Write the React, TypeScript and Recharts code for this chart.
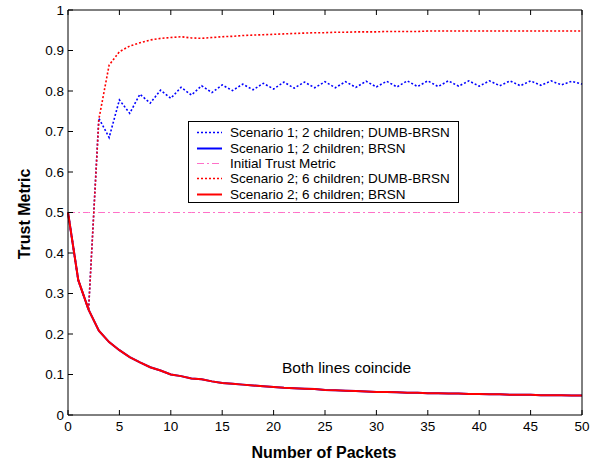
import React from "react";
import { LineChart, Line, XAxis, YAxis, Legend } from "recharts";

const packets = Array.from({ length: 51 }, (_, i) => i);

// Scenario 1 & 2, BRSN (the two lines coincide)
const brsn = [
	0.5, 0.333, 0.26, 0.208, 0.18, 0.16, 0.143, 0.13, 0.118, 0.11, 0.1, 0.096, 0.09, 0.088, 0.083, 0.079,
	0.077, 0.075, 0.073, 0.071, 0.069, 0.067, 0.066, 0.065, 0.064, 0.062, 0.061, 0.06, 0.059, 0.058, 0.057,
	0.057, 0.056, 0.055, 0.055, 0.054, 0.054, 0.053, 0.053, 0.052, 0.052, 0.051, 0.051, 0.05, 0.05, 0.05,
	0.049, 0.049, 0.049, 0.048, 0.048,
];
const scen1Dumb = [
	0.5, 0.333, 0.26, 0.733, 0.685, 0.778, 0.745, 0.792, 0.77, 0.802, 0.782, 0.809, 0.79, 0.813, 0.796, 0.815,
	0.801, 0.817, 0.803, 0.819, 0.805, 0.822, 0.807, 0.822, 0.808, 0.823, 0.808, 0.823, 0.809, 0.824, 0.81,
	0.824, 0.81, 0.825, 0.811, 0.825, 0.811, 0.825, 0.812, 0.825, 0.812, 0.825, 0.813, 0.825, 0.813, 0.825,
	0.814, 0.825, 0.815, 0.824, 0.817,
];
const scen2Dumb = [
	0.5, 0.333, 0.26, 0.73, 0.864, 0.897, 0.911, 0.919, 0.926, 0.93, 0.932, 0.934, 0.931, 0.93, 0.932, 0.934,
	0.935, 0.937, 0.938, 0.939, 0.94, 0.941, 0.942, 0.943, 0.944, 0.944, 0.945, 0.945, 0.946, 0.946, 0.946,
	0.947, 0.947, 0.947, 0.947, 0.948, 0.948, 0.948, 0.948, 0.948, 0.948, 0.948, 0.948, 0.948, 0.948, 0.948,
	0.948, 0.948, 0.948, 0.948, 0.948,
];
const initialTrust = 0.5;

const xTicks = [0, 5, 10, 15, 20, 25, 30, 35, 40, 45, 50];
const yTicks = [0, 0.1, 0.2, 0.3, 0.4, 0.5, 0.6, 0.7, 0.8, 0.9, 1];

const data = packets.map((p, i) => ({
	p,
	s1dumb: scen1Dumb[i],
	s1brsn: brsn[i],
	init: initialTrust,
	s2dumb: scen2Dumb[i],
	s2brsn: brsn[i],
}));

const series = [
	{ key: "s1dumb", name: "Scenario 1; 2 children; DUMB-BRSN", color: "#0000ff", dash: "2 2", width: 1.6 },
	{ key: "s1brsn", name: "Scenario 1; 2 children; BRSN", color: "#0000ff", dash: undefined, width: 2 },
	{ key: "init", name: "Initial Trust Metric", color: "#ff70c8", dash: "7 3 2 3", width: 1 },
	{ key: "s2dumb", name: "Scenario 2; 6 children; DUMB-BRSN", color: "#ff0000", dash: "2 2", width: 1.6 },
	{ key: "s2brsn", name: "Scenario 2; 6 children; BRSN", color: "#ff0000", dash: undefined, width: 2 },
];

const font = "Arial, 'Liberation Sans', sans-serif";

const BottomTick = (p: any) => (
	<g>
		<line x1={p.x} x2={p.x} y1={p.y} y2={p.y - 5} stroke="#000" />
		<text x={p.x} y={p.y + 16} textAnchor="middle" fontSize={13.5} fontFamily={font} fill="#000">
			{p.payload.value}
		</text>
	</g>
);
const TopTick = (p: any) => <line x1={p.x} x2={p.x} y1={p.y} y2={p.y + 5} stroke="#000" />;
const LeftTick = (p: any) => (
	<g>
		<line x1={p.x} x2={p.x + 5} y1={p.y} y2={p.y} stroke="#000" />
		<text x={p.x - 4} y={p.y + 4.5} textAnchor="end" fontSize={13.5} fontFamily={font} fill="#000">
			{p.payload.value}
		</text>
	</g>
);
const RightTick = (p: any) => <line x1={p.x} x2={p.x - 5} y1={p.y} y2={p.y} stroke="#000" />;

const LegendBox = () => (
	<div
		style={{
			border: "1.5px solid #000",
			background: "#fff",
			width: 271,
			height: 82,
			boxSizing: "border-box",
			padding: "3px 0 0 0",
			fontFamily: font,
			fontSize: 13.5,
		}}
	>
		{series.map((s) => (
			<div key={s.key} style={{ display: "flex", alignItems: "center", height: 15.4 }}>
				<svg width={41} height={15} style={{ flex: "none" }}>
					<line x1={8} x2={33} y1={7.5} y2={7.5} stroke={s.color} strokeWidth={s.width} strokeDasharray={s.dash} />
				</svg>
				<span style={{ whiteSpace: "nowrap", lineHeight: "15px" }}>{s.name}</span>
			</div>
		))}
	</div>
);

export default function App() {
	return (
		<div style={{ position: "absolute", left: 0, top: 0, width: 603, height: 464, background: "#fff" }}>
			<LineChart width={603} height={464} data={data} margin={{ top: 0, right: 0, bottom: 0, left: 0 }}>
				<XAxis
					dataKey="p"
					type="number"
					domain={[0, 50]}
					ticks={xTicks}
					height={49}
					tickSize={0}
					tickMargin={0}
					tickLine={false}
					tick={BottomTick}
					axisLine={{ stroke: "#000" }}
					interval={0}
				/>
				<XAxis
					xAxisId="top"
					orientation="top"
					dataKey="p"
					type="number"
					domain={[0, 50]}
					ticks={xTicks}
					height={10}
					tickSize={0}
					tickMargin={0}
					tickLine={false}
					tick={TopTick}
					axisLine={{ stroke: "#000" }}
					interval={0}
				/>
				<YAxis
					type="number"
					domain={[0, 1]}
					ticks={yTicks}
					width={68}
					tickSize={0}
					tickMargin={0}
					tickLine={false}
					tick={LeftTick}
					axisLine={{ stroke: "#000" }}
					interval={0}
				/>
				<YAxis
					yAxisId="right"
					orientation="right"
					type="number"
					domain={[0, 1]}
					ticks={yTicks}
					width={21}
					tickSize={0}
					tickMargin={0}
					tickLine={false}
					tick={RightTick}
					axisLine={{ stroke: "#000" }}
					interval={0}
				/>
				{series.map((s) => (
					<Line
						key={s.key}
						dataKey={s.key}
						name={s.name}
						stroke={s.color}
						strokeWidth={s.width}
						strokeDasharray={s.dash}
						dot={false}
						activeDot={false}
						type="linear"
						isAnimationActive={false}
					/>
				))}
				<Legend
					layout="vertical"
					verticalAlign="middle"
					align="center"
					content={LegendBox}
					wrapperStyle={{ position: "absolute", left: 188, top: 121, width: 271, height: 82 }}
				/>
			</LineChart>
			<div style={{ position: "absolute", left: 282, top: 359, fontFamily: font, fontSize: 15.5, color: "#000" }}>
				Both lines coincide
			</div>
			<div
				style={{
					position: "absolute",
					left: 0,
					top: 444,
					width: 648,
					textAlign: "center",
					fontFamily: font,
					fontSize: 16,
					fontWeight: "bold",
					lineHeight: "18px",
				}}
			>
				Number of Packets
			</div>
			<div
				style={{
					position: "absolute",
					left: 25,
					top: 214,
					transform: "translate(-50%, -50%) rotate(-90deg)",
					whiteSpace: "nowrap",
					fontFamily: font,
					fontSize: 16,
					fontWeight: "bold",
				}}
			>
				Trust Metric
			</div>
		</div>
	);
}
